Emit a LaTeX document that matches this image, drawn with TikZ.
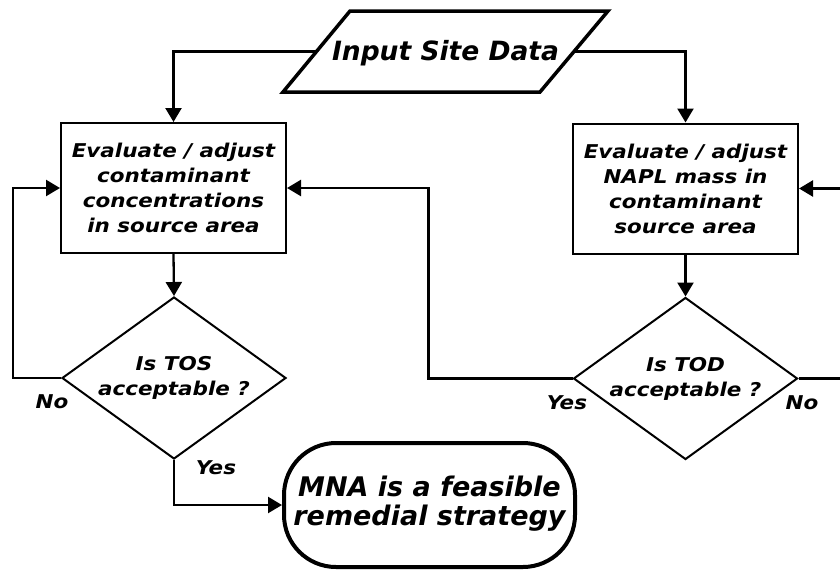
\documentclass[tikz,border=0pt]{standalone}
\usepackage{fontspec}
\setmainfont{DejaVu Sans}
\newfontfamily\widefont[FakeStretch=1.13]{DejaVu Sans}
\usetikzlibrary{shapes.geometric,arrows.meta}
\begin{document}
\begin{tikzpicture}[x=1pt,y=-1pt,
  every node/.style={font=\widefont\bfseries\itshape\fontsize{19}{25}\selectfont, align=center, inner sep=0pt},
  procbox/.style={draw, line width=2pt, minimum width=225pt, minimum height=130pt},
  decide/.style={draw, diamond, line width=2pt, minimum width=224pt, minimum height=162pt, aspect=1.38},
  intext/.style={font=\bfseries\itshape\fontsize{26.5}{30}\selectfont},
  inframe/.style={line width=3.5pt, line join=miter},
  termbox/.style={draw, rounded corners=52pt, line width=4pt, minimum width=291pt, minimum height=124pt, font=\bfseries\itshape\fontsize{27}{28}\selectfont},
  arr/.style={line width=2.3pt, -{Triangle[length=14pt,width=16pt]}},
  lbl/.style={font=\widefont\bfseries\itshape\fontsize{19}{22}\selectfont}
]
\useasboundingbox (0,0) rectangle (840,573);
\fill[white] (0,0) rectangle (840,573);

\node[intext] (inp) at (445.5,53) {Input Site Data};
\draw[inframe] (283,92) -- (350,11) -- (608,11) -- (540,92) -- cycle;
\coordinate (inpL) at (316.5,51.5);
\coordinate (inpR) at (574,51.5);

\node[procbox] (box1) at (173.5,188) {Evaluate / adjust\\contaminant\\concentrations\\in source area};
\node[procbox] (box2) at (685.5,188.5) {Evaluate / adjust\\NAPL mass in\\contaminant\\source area};
\node[decide] (dia1) at (174,378) {\raisebox{-2pt}{\begin{tabular}{@{}c@{}}Is TOS\\acceptable ?\end{tabular}}};
\node[decide] (dia2) at (685.5,378.5) {\raisebox{-2pt}{\begin{tabular}{@{}c@{}}Is TOD\\acceptable ?\end{tabular}}};
\node[termbox] (term) at (429.5,505) {\raisebox{-5pt}{\begin{tabular}{@{}c@{}}MNA is a feasible\\remedial strategy\end{tabular}}};

\node[lbl] (no1) at (52,402) {No};
\node[lbl] (yes1) at (216,468) {Yes};
\node[lbl] (yes2) at (567,403) {Yes};
\node[lbl] (no2) at (802,403) {No};

\draw[arr] (inpL) -| (box1.north);
\draw[arr] (inpR) -| (box2.north);
\draw[arr] (box1.south) -- (dia1.north);
\draw[arr] (box2.south) -- (dia2.north);
\draw[arr] (dia1.west) -- ++(-48,0) |- (box1.west);
\draw[arr] (dia2.west) -- ++(-144,0) |- (box1.east);
\draw[arr] (dia2.east) -- ++(60,0) |- (box2.east);
\draw[arr] (dia1.south) |- (term.west);
\end{tikzpicture}
\end{document}
